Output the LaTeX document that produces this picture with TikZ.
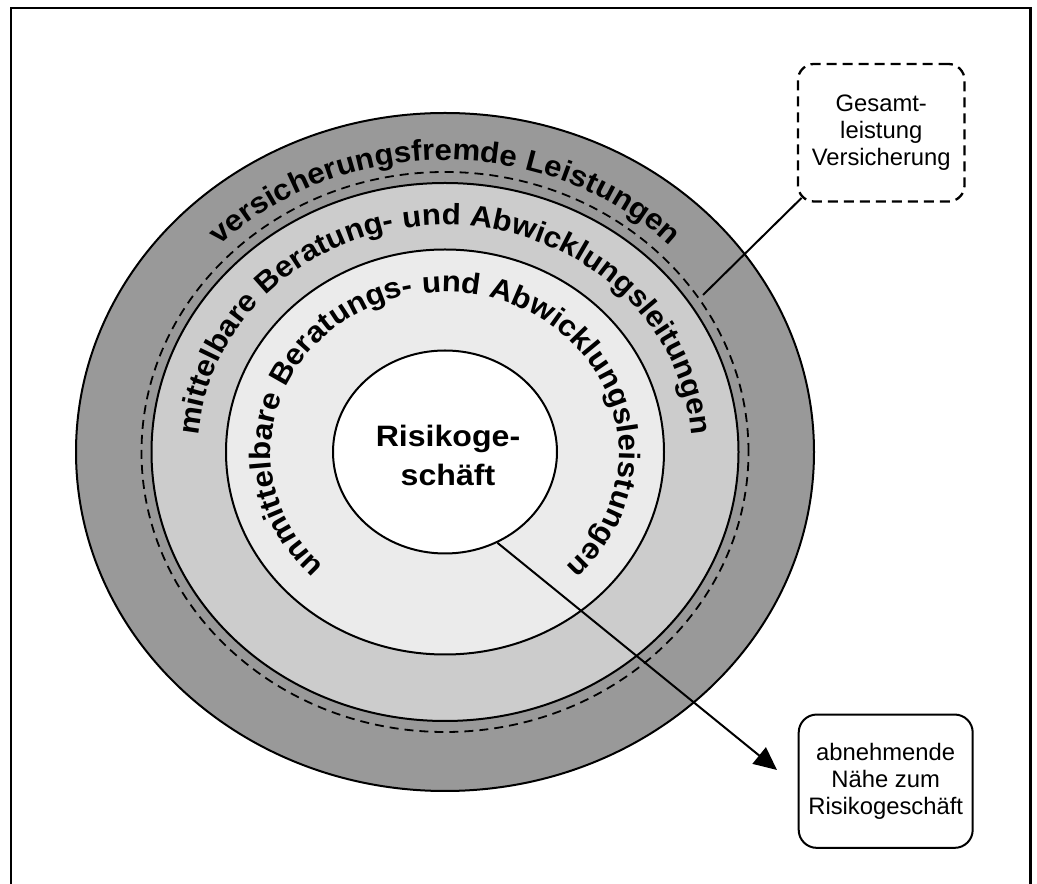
\documentclass[tikz,border=0pt]{standalone}
\usepackage{fontspec}
\setmainfont{Liberation Sans}
\newfontfamily\ringfont[FakeStretch=1.06]{Liberation Sans Bold}
\newfontfamily\corefont[FakeStretch=1.088]{Liberation Sans Bold}
\usetikzlibrary{decorations.text,shapes.geometric,arrows.meta,calc}

\definecolor{ringdark}{gray}{0.6}
\definecolor{ringmid}{gray}{0.8}
\definecolor{ringlight}{gray}{0.92}

\newcommand\ringstyle{\ringfont\fontsize{29.5}{30}\selectfont}

\tikzset{
  ring/.style={draw=black, line width=2pt},
  ringlabel/.style={decorate, decoration={text along path, text align=center, text={#1}}},
  infobox/.style={rectangle, draw=black, fill=white, align=center, inner sep=0pt,
                  font=\fontsize{23.8}{27}\selectfont},
  link/.style={draw=black, line width=2pt},
}

\begin{document}
\begin{tikzpicture}[x=1pt,y=1pt]
\clip (0,0) rectangle (1037,884);
% outer frame (open at the bottom edge)
\draw[line width=2.3pt] (11.3,-20) rectangle (1030.5,876);

\coordinate (C) at (445,432);

% concentric rings
\draw[ring, fill=ringdark]  (C) ellipse[x radius=369,   y radius=339];
\draw[ring, fill=ringmid]   (C) ellipse[x radius=293.5, y radius=269];
\draw[line width=1.8pt, dash pattern=on 9pt off 6pt] (C) ellipse[x radius=303.5, y radius=280];
\draw[ring, fill=ringlight] (C) ellipse[x radius=219,   y radius=202.5];
\node[ellipse, draw=black, line width=2pt, fill=white, inner sep=0pt,
      minimum width=224, minimum height=203] (core) at (C) {};
\node[align=center, inner sep=0pt, font=\corefont\fontsize{29.5}{39}\selectfont]
      (corelabel) at (448,428.4) {Risikoge-\\schäft};

% ring labels
\path[ringlabel={|\ringstyle|versicherungsfremde Leistungen}]
  (C) ++(180:317.7 and 292) arc[start angle=180, end angle=0, x radius=317.7, y radius=292];
\path[ringlabel={|\ringstyle|mittelbare Beratung- und Abwicklungsleitungen}]
  (C) ++(200:247 and 227) arc[start angle=200, end angle=-20, x radius=247, y radius=227];
\path[ringlabel={|\ringstyle|unmittelbare Beratungs- und Abwicklungsleistungen}]
  (C) ++(270:174 and 160) arc[start angle=270, end angle=-90, x radius=174, y radius=160];

% side boxes
\node[infobox, line width=2.3pt, dash pattern=on 10pt off 6pt, rounded corners=16pt,
      minimum width=166.5, minimum height=137.5] (gbox) at (881.25,751.25)
      {Gesamt-\\leistung\\Versicherung};
\node[infobox, line width=2pt, rounded corners=18pt,
      minimum width=174, minimum height=133.3] (nbox) at (885.7,102.8)
      {abnehmende\\Nähe zum\\Risikogeschäft};

% connectors
\coordinate (gtip) at (703,589);
\draw[link] (gtip) -- ($(gbox.south west)+(4.7,4.7)$);
\coordinate (atip) at (777,114);
\draw[link, -{Triangle[length=23pt,width=21pt]}] (core.-60.3) -- (atip);
\end{tikzpicture}
\end{document}
